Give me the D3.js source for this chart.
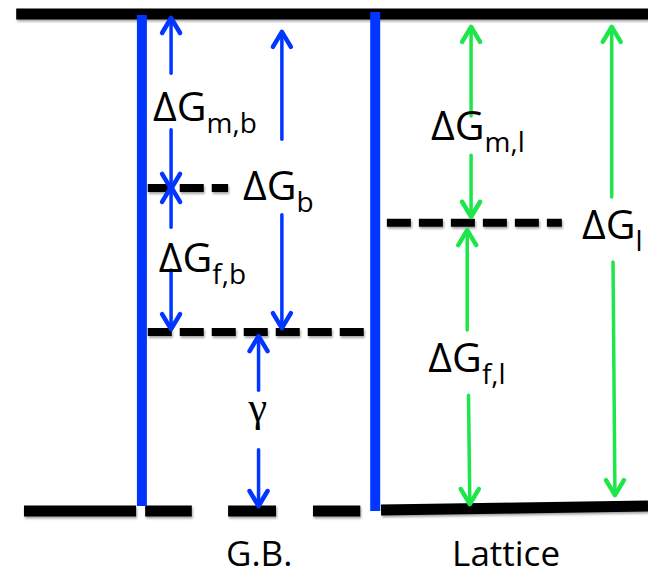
<!DOCTYPE html>
<html>
<head>
<meta charset="utf-8">
<script src="https://cdn.jsdelivr.net/npm/d3@7"></script>
<style>
  body { margin: 0; background: #fff; }
  svg { display: block; }
</style>
</head>
<body>
<div id="chart"></div>
<script>
var width = 648, height = 578;

// energy levels (0 = ground, 10 = top)
var levelTop = 10;
var levelGbSaddle = 6.5;
var levelGbSite = 3.6;
var levelLatSaddle = 5.8;

// solid / dashed level lines: [x0, x1, e0, e1, dashed]
var levelLines = [
    [2.5, 100, levelTop, levelTop, false],
    [22.8, 35.2, levelGbSaddle, levelGbSaddle, true],
    [22.8, 57.1, levelGbSite, levelGbSite, true],
    [59.7, 86.7, levelLatSaddle, levelLatSaddle, true],
    [3.7, 21.0, 0, 0, false],
    [22.4, 29.6, 0, 0, false],
    [35.2, 42.6, 0, 0, false],
    [48.3, 55.6, 0, 0, false],
    [58.8, 100, 0.02, 0.1, false]
];

// boundary walls: [x, eBottom, eTop]
var walls = [
    [21.9, 0.1, 9.98],
    [57.9, 0, 10.04]
];

// arrows: [x0, x1, eFrom, eTip, group]
var arrows = [
    [26.4, 26.4, 8.81, 9.92, "b"],
    [26.4, 26.4, 7.67, 6.48, "b"],
    [26.4, 26.4, 5.71, 6.52, "b"],
    [26.4, 26.4, 4.85, 3.66, "b"],
    [43.5, 43.5, 7.48, 9.64, "b"],
    [43.5, 43.5, 5.96, 3.68, "b"],
    [39.9, 39.9, 2.43, 3.52, "b"],
    [39.9, 39.9, 1.23, 0.1, "b"],
    [72.7, 72.7, 7.95, 9.74, "l"],
    [72.7, 72.7, 7.16, 5.92, "l"],
    [72.1, 72.1, 3.64, 5.65, "l"],
    [72.3, 72.5, 2.33, 0.14, "l"],
    [94.4, 94.4, 6.32, 9.74, "l"],
    [94.6, 94.9, 5.01, 0.32, "l"]
];

// labels: [main, subscript, x, e]
var labels = [
    ["ΔG", "m,b", 23.6, 7.85],
    ["ΔG", "b", 37.5, 6.26],
    ["ΔG", "f,b", 24.5, 4.8],
    ["ΔG", "m,l", 66.5, 7.47],
    ["ΔG", "l", 89.8, 5.47],
    ["ΔG", "f,l", 66.1, 2.8]
];
var gammaLabel = ["γ", 39.8, 1.81];
var columnLabels = [["G.B.", 40.0], ["Lattice", 78.1]];

var colors = { b: "#0036ff", l: "#1ee64a" };

var x = d3.scaleLinear().domain([0, 100]).range([0, width]);
var y = d3.scaleLinear().domain([0, 10]).range([511, 14]);

var svg = d3.select("#chart").append("svg")
    .attr("width", width)
    .attr("height", height);

var defs = svg.append("defs");
var shadow = defs.append("filter").attr("id", "shadow")
    .attr("filterUnits", "userSpaceOnUse")
    .attr("x", 0).attr("y", 0).attr("width", width).attr("height", height);
shadow.append("feDropShadow")
    .attr("dx", 1).attr("dy", 2).attr("stdDeviation", 1.2)
    .attr("flood-color", "#000").attr("flood-opacity", 0.35);

var fontFamily = "'Open Sans', 'DejaVu Sans', sans-serif";

// level lines
svg.append("g").selectAll("line")
    .data(levelLines)
    .enter().append("line")
    .attr("x1", function(d) { return x(d[0]); })
    .attr("x2", function(d) { return x(d[1]); })
    .attr("y1", function(d) { return y(d[2]); })
    .attr("y2", function(d) { return y(d[3]); })
    .attr("stroke", "#000")
    .attr("stroke-width", function(d) { return d[4] ? 8 : 11; })
    .attr("stroke-dasharray", function(d) { return d[4] ? "24,8" : null; })
    .attr("filter", "url(#shadow)");

// blue walls
svg.append("g").selectAll("line")
    .data(walls)
    .enter().append("line")
    .attr("x1", function(d) { return x(d[0]); })
    .attr("x2", function(d) { return x(d[0]); })
    .attr("y1", function(d) { return y(d[1]); })
    .attr("y2", function(d) { return y(d[2]); })
    .attr("stroke", colors.b)
    .attr("stroke-width", 10);

// arrows
var arrow = svg.append("g").selectAll("g")
    .data(arrows)
    .enter().append("g")
    .attr("stroke", function(d) { return colors[d[4]]; })
    .attr("fill", "none")
    .attr("stroke-linecap", "round")
    .attr("stroke-linejoin", "round");

arrow.append("line")
    .attr("x1", function(d) { return x(d[0]); })
    .attr("x2", function(d) { return x(d[1]); })
    .attr("y1", function(d) { return y(d[2]); })
    .attr("y2", function(d) { return y(d[3]); })
    .attr("stroke-width", 3.5);

arrow.append("path")
    .attr("stroke-width", 4.5)
    .attr("d", function(d) {
        var tx = x(d[1]), ty = y(d[3]);
        var dir = y(d[3]) < y(d[2]) ? 1 : -1; // up arrow: arms go downward
        return "M" + (tx - 9) + "," + (ty + dir * 15) + "L" + tx + "," + ty + "L" + (tx + 9) + "," + (ty + dir * 15);
    });

// labels
var lab = svg.append("g").selectAll("text")
    .data(labels)
    .enter().append("text")
    .attr("x", function(d) { return x(d[2]); })
    .attr("y", function(d) { return y(d[3]); })
    .style("font-family", fontFamily)
    .style("font-size", "41px")
    .attr("fill", "#000");

lab.append("tspan").text(function(d) { return d[0]; });
lab.append("tspan")
    .attr("dy", 12)
    .style("font-size", "28px")
    .text(function(d) { return d[1]; });

svg.append("text")
    .attr("x", x(gammaLabel[1]))
    .attr("y", y(gammaLabel[2]))
    .attr("text-anchor", "middle")
    .style("font-family", "'Liberation Serif', serif")
    .style("font-size", "42px")
    .text(gammaLabel[0]);

svg.append("g").selectAll("text")
    .data(columnLabels)
    .enter().append("text")
    .attr("x", function(d) { return x(d[1]); })
    .attr("y", 566)
    .attr("text-anchor", "middle")
    .style("font-family", fontFamily)
    .style("font-size", "35px")
    .text(function(d) { return d[0]; });
</script>
</body>
</html>
